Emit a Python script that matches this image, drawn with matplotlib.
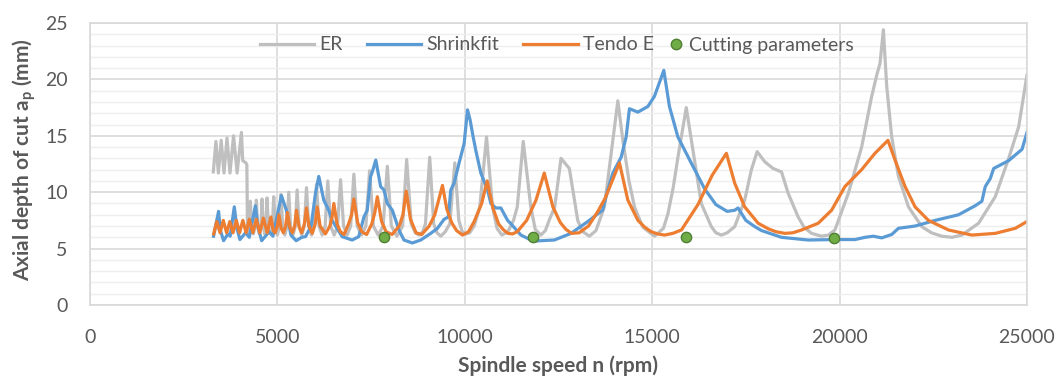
import matplotlib
matplotlib.use("Agg")
import matplotlib.pyplot as plt
from matplotlib.lines import Line2D

plt.rcParams['font.family'] = ['Lato', 'DejaVu Sans']
plt.rcParams['mathtext.fontset'] = 'custom'
plt.rcParams['mathtext.rm'] = 'Lato'
plt.rcParams['mathtext.bf'] = 'Lato:bold'

# stability lobes: (spindle speed rpm, axial depth mm)
er = [(3290, 11.8), (3360, 14.5), (3425, 11.7), (3500, 14.6), (3575, 11.7), (3655, 14.8),
      (3735, 11.7), (3830, 15.0), (3925, 11.7), (4040, 15.3), (4075, 12.8), (4160, 12.6),
      (4185, 12.4), (4200, 7.2), (4220, 6.4), (4250, 7.0), (4278, 9.2), (4310, 7.0),
      (4360, 6.3), (4410, 7.0), (4439, 9.3), (4470, 7.0), (4515, 6.3), (4560, 7.0),
      (4591, 9.4), (4625, 7.0), (4660, 6.3), (4695, 7.0), (4724, 9.5), (4760, 7.0),
      (4815, 6.3), (4865, 7.0), (4902, 9.6), (4945, 7.0), (5000, 6.2), (5055, 7.0),
      (5094, 9.8), (5140, 7.0), (5200, 6.2), (5260, 7.0), (5303, 10.0), (5350, 7.0),
      (5415, 6.2), (5480, 7.0), (5526, 10.2), (5580, 7.0), (5650, 6.2), (5720, 7.0),
      (5776, 10.4), (5835, 7.0), (5910, 6.2), (5985, 7.0), (6043, 10.7), (6110, 7.0),
      (6195, 6.2), (6275, 7.0), (6345, 11.0), (6420, 7.0), (6515, 6.2), (6605, 7.0),
      (6685, 11.1), (6765, 7.0), (6860, 6.2), (6955, 7.0), (7040, 11.6), (7130, 7.0),
      (7245, 6.2), (7360, 7.0), (7460, 11.9), (7560, 7.0), (7690, 6.2), (7820, 7.0),
      (7933, 12.3), (8040, 7.0), (8190, 6.1), (8340, 7.0), (8449, 12.9), (8570, 7.2),
      (8680, 6.4), (8778, 6.2), (8880, 6.5), (8950, 7.2), (9064, 13.1), (9170, 7.2),
      (9260, 6.4), (9358, 6.1), (9480, 6.5), (9600, 7.2), (9733, 12.6), (9840, 7.5),
      (9930, 6.5), (10027, 6.3), (10130, 6.4), (10250, 7.0), (10400, 8.7), (10580, 14.9),
      (10740, 8.7), (10860, 6.8), (10990, 6.2), (11150, 6.5), (11300, 7.5), (11400, 8.7),
      (11559, 14.5), (11760, 8.7), (11880, 6.7), (12030, 6.2), (12150, 6.6), (12250, 7.5),
      (12400, 8.7), (12567, 13.0), (12790, 12.1), (13013, 7.5), (13150, 6.5), (13323, 6.1),
      (13500, 6.6), (13725, 8.7), (13950, 14.6), (14083, 18.1), (14217, 14.6), (14380, 11.0),
      (14527, 8.7), (14750, 6.9), (15061, 6.1), (15300, 6.8), (15420, 8.1), (15560, 10.4),
      (15687, 13.1), (15909, 17.5), (16088, 13.7), (16310, 9.0), (16577, 6.95), (16700, 6.4),
      (16845, 6.2), (17000, 6.4), (17201, 6.95), (17468, 9.3), (17647, 12.0), (17800, 13.6),
      (18003, 12.7), (18227, 12.1), (18450, 11.8), (18628, 9.9), (18895, 7.8), (19050, 6.9),
      (19251, 6.35), (19519, 6.1), (19700, 6.2), (19875, 6.65), (20233, 9.9), (20588, 14.0),
      (20856, 18.5), (21000, 20.5), (21078, 21.4), (21168, 24.4), (21257, 19.4), (21390, 14.9),
      (21570, 11.4), (21837, 8.7), (22193, 6.95), (22450, 6.4), (22727, 6.1), (23000, 6.0),
      (23262, 6.2), (23709, 7.25), (24153, 9.6), (24511, 13.0), (24778, 15.8), (25000, 20.4)]

shrinkfit = [(3297, 6.1), (3430, 8.3), (3480, 6.6), (3564, 5.7), (3680, 6.3), (3740, 6.1),
             (3850, 8.7), (3920, 6.8), (4000, 5.8), (4150, 6.4), (4250, 6.0), (4412, 8.8),
             (4480, 7.0), (4580, 5.7), (4780, 6.5), (4880, 6.1), (5107, 9.7), (5240, 8.4),
             (5360, 6.2), (5500, 5.7), (5650, 6.0), (5750, 6.06), (5900, 7.0), (6016, 9.9),
             (6104, 11.4), (6237, 9.3), (6371, 8.4), (6460, 7.5), (6727, 6.06), (6995, 5.76),
             (7170, 6.06), (7308, 7.8), (7397, 8.4), (7487, 11.4), (7532, 11.8), (7625, 12.85),
             (7754, 10.5), (7843, 10.2), (7933, 9.0), (8067, 8.4), (8243, 6.65), (8377, 5.76),
             (8600, 5.5), (8824, 5.76), (9091, 6.35), (9270, 6.8), (9447, 7.6), (9560, 7.8),
             (9626, 10.2), (9714, 10.8), (9848, 12.6), (9982, 14.3), (10072, 17.3), (10142, 16.4),
             (10206, 15.2), (10294, 13.7), (10428, 11.7), (10607, 10.2), (10695, 9.0), (10829, 8.6),
             (10963, 8.6), (11142, 7.5), (11230, 7.2), (11497, 6.2), (11765, 5.76), (11853, 5.67),
             (12388, 5.76), (12834, 6.35), (13281, 7.4), (13675, 8.4), (13815, 10.2), (13950, 11.7),
             (14171, 13.1), (14305, 14.9), (14393, 17.4), (14618, 17.1), (14885, 17.6), (15060, 18.5),
             (15310, 20.8), (15460, 17.6), (15685, 14.9), (16040, 12.6), (16398, 10.3), (16700, 8.9),
             (17000, 8.3), (17201, 8.4), (17290, 8.6), (17500, 7.5), (17736, 6.95), (17915, 6.6),
             (18450, 6.0), (19163, 5.76), (19831, 5.8), (20409, 5.8), (20677, 6.0), (20900, 6.1),
             (21123, 5.95), (21390, 6.25), (21570, 6.8), (22014, 7.0), (22548, 7.5), (23174, 8.0),
             (23618, 8.8), (23797, 9.2), (23886, 10.5), (24019, 11.2), (24110, 12.1), (24511, 12.8),
             (24867, 13.8), (25000, 15.3)]

tendo = [(3300, 6.3), (3382, 7.4), (3470, 6.4), (3556, 7.5), (3645, 6.4), (3730, 7.4),
         (3815, 6.4), (3904, 7.5), (3990, 6.4), (4078, 7.5), (4165, 6.4), (4251, 7.6),
         (4345, 6.4), (4439, 7.6), (4530, 6.4), (4626, 7.7), (4730, 6.4), (4826, 7.8),
         (4890, 6.6), (4940, 6.4), (5000, 7.0), (5040, 8.0), (5100, 6.8), (5160, 6.4),
         (5220, 7.0), (5267, 8.2), (5330, 6.9), (5400, 6.4), (5460, 7.0), (5508, 8.4),
         (5580, 6.9), (5650, 6.4), (5720, 7.2), (5776, 8.6), (5840, 7.0), (5930, 6.35),
         (6010, 7.2), (6062, 8.7), (6140, 7.0), (6280, 6.3), (6400, 7.0), (6460, 7.8),
         (6506, 9.0), (6590, 7.2), (6680, 6.5), (6780, 6.25), (6900, 7.2), (6980, 8.0),
         (7040, 9.4), (7140, 7.3), (7250, 6.5), (7380, 6.25), (7520, 7.2), (7600, 8.2),
         (7666, 9.6), (7780, 7.4), (7900, 6.5), (8060, 6.25), (8250, 7.0), (8350, 8.0),
         (8436, 10.1), (8550, 7.6), (8700, 6.4), (8850, 6.25), (9050, 7.0), (9200, 8.0),
         (9404, 10.6), (9520, 8.5), (9650, 7.3), (9780, 6.6), (9940, 6.2), (10100, 6.5),
         (10250, 7.4), (10450, 9.0), (10597, 11.0), (10750, 8.6), (10900, 7.2), (11020, 6.7),
         (11150, 6.35), (11270, 6.3), (11400, 6.5), (11650, 7.5), (11900, 9.3), (12120, 11.7),
         (12350, 8.7), (12550, 7.3), (12700, 6.7), (12850, 6.35), (13050, 6.4), (13300, 7.0),
         (13550, 8.3), (13750, 9.5), (14126, 12.6), (14350, 9.3), (14620, 7.5), (14800, 6.9),
         (14970, 6.5), (15150, 6.3), (15330, 6.2), (15550, 6.35), (15780, 6.65), (16220, 8.9),
         (16600, 11.5), (16979, 13.45), (17201, 10.8), (17468, 8.7), (17826, 7.25), (18100, 6.75),
         (18300, 6.5), (18538, 6.35), (18750, 6.4), (18984, 6.65), (19430, 7.25), (19786, 8.4),
         (20142, 10.5), (20588, 12.0), (20944, 13.45), (21290, 14.6), (21479, 12.85), (21747, 10.5),
         (22014, 8.7), (22371, 7.5), (22906, 6.65), (23530, 6.2), (24153, 6.35), (24688, 6.8),
         (25000, 7.4)]

cut_rpm = [7840, 11810, 15910, 19850]
cut_ap = [6.0, 6.0, 6.0, 5.9]

x_ticks = [0, 5000, 10000, 15000, 20000, 25000]
y_ticks = [0, 5, 10, 15, 20, 25]

grey_txt = '#595959'

fig = plt.figure(figsize=(10.61, 3.76), dpi=100)
ax = fig.add_axes([90 / 1061, 71 / 376, 937 / 1061, 282 / 376])

er_x, er_y = zip(*er)
sh_x, sh_y = zip(*shrinkfit)
te_x, te_y = zip(*tendo)
l1, = ax.plot(er_x, er_y, color='#BFBFBF', lw=2.3, label='ER')
l2, = ax.plot(sh_x, sh_y, color='#5B9BD5', lw=2.3, label='Shrinkfit')
l3, = ax.plot(te_x, te_y, color='#ED7D31', lw=2.3, label='Tendo E')
ax.scatter(cut_rpm, cut_ap, s=55, color='#70AD47', edgecolor='#4F7F33', lw=1, zorder=5)

ax.set_xlim(0, 25000)
ax.set_ylim(0, 25)
ax.set_xticks(x_ticks)
ax.set_yticks(y_ticks)
ax.set_yticks(range(0, 26), minor=True)
ax.grid(which='minor', axis='y', color='#EEEEEE', lw=1.0)
ax.grid(which='major', color='#D9D9D9', lw=1.2)
ax.set_axisbelow(True)
for s in ax.spines.values():
    s.set_color('#D9D9D9')
    s.set_linewidth(1.2)
ax.tick_params(which='both', length=0, labelsize=14, colors=grey_txt)
ax.tick_params(axis='x', pad=17)
ax.tick_params(axis='y', pad=16)

ax.set_xlabel('Spindle speed n (rpm)', fontsize=15, fontweight='bold', color=grey_txt)
ax.xaxis.set_label_coords(0.5, -0.18)
ax.set_ylabel(r'Axial depth of cut a$_\mathbf{p}$ (mm)', fontsize=15, fontweight='bold', color=grey_txt)
ax.yaxis.set_label_coords(-0.055, 0.515)

leg1 = ax.legend(handles=[l1, l2, l3], loc='center left', ncol=3, frameon=False,
                 fontsize=14, handlelength=2.8, handletextpad=0.25, columnspacing=1.25,
                 borderpad=0, borderaxespad=0,
                 bbox_to_anchor=(260 / 1061, 1 - 45 / 376), bbox_transform=fig.transFigure)
for t in leg1.get_texts():
    t.set_color(grey_txt)
ax.add_artist(leg1)
dot = Line2D([], [], marker='o', ls='none', markersize=7.5,
             markerfacecolor='#70AD47', markeredgecolor='#4F7F33', label='Cutting parameters')
leg2 = ax.legend(handles=[dot], loc='center left', frameon=False, fontsize=14,
                 handlelength=0.8, handletextpad=0.27, borderpad=0, borderaxespad=0,
                 bbox_to_anchor=(668 / 1061, 1 - 45 / 376), bbox_transform=fig.transFigure)
for t in leg2.get_texts():
    t.set_color(grey_txt)

fig.savefig('out.png', dpi=100)
